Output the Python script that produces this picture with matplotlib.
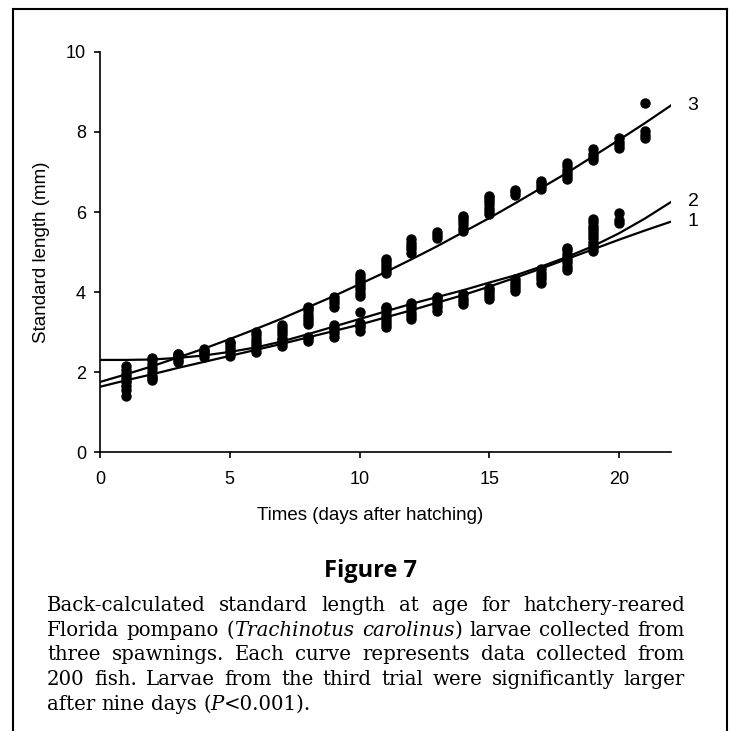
import matplotlib
matplotlib.use("Agg")
import matplotlib.pyplot as plt
from matplotlib.lines import Line2D

# ---------------- data ----------------
t1_days = [1, 1, 1, 1, 2, 2, 2, 3, 3, 4, 4, 5, 5, 6, 6, 7, 7, 8, 8,
           9, 9, 9, 10, 10, 11, 11, 11, 11, 12, 12, 12, 13, 13, 13, 14, 14,
           15, 15, 16, 16, 17, 17, 17, 18, 18, 18, 18, 19, 19, 19, 19, 19, 20, 20]
t1_sl = [1.42, 1.55, 1.65, 1.75, 1.80, 1.90, 2.00, 2.25, 2.32, 2.39, 2.45, 2.41, 2.50,
         2.51, 2.60, 2.66, 2.74, 2.79, 2.85, 2.89, 2.97, 3.05, 3.04, 3.12,
         3.12, 3.20, 3.28, 3.36, 3.33, 3.41, 3.49, 3.54, 3.62, 3.70, 3.70, 3.78,
         3.83, 3.91, 4.03, 4.11, 4.24, 4.32, 4.40, 4.56, 4.64, 4.72, 4.80,
         5.02, 5.10, 5.18, 5.26, 5.34, 5.72, 5.80]

t2_days = [1, 1, 1, 2, 2, 2, 2, 3, 3, 4, 4, 5, 5, 6, 6, 7, 7, 8, 9, 9,
           10, 10, 10, 11, 11, 11, 11, 12, 12, 12, 13, 13, 13, 14, 14, 15, 15, 15,
           16, 16, 16, 17, 17, 18, 18, 18, 18, 19, 19, 19, 19, 19, 19, 20]
t2_sl = [1.95, 2.05, 2.15, 2.10, 2.20, 2.30, 2.35, 2.38, 2.45, 2.50, 2.57, 2.58, 2.66,
         2.68, 2.76, 2.80, 2.85, 2.88, 3.10, 3.17, 3.18, 3.24, 3.50,
         3.44, 3.52, 3.60, 3.63, 3.57, 3.65, 3.74, 3.78, 3.85, 3.89, 3.86, 3.95,
         3.99, 4.06, 4.11, 4.19, 4.26, 4.32, 4.48, 4.57, 4.88, 4.96, 5.04, 5.10,
         5.42, 5.50, 5.58, 5.66, 5.74, 5.83, 5.98]

t3_days = [1, 1, 2, 3, 3, 4, 5, 5, 6, 6, 6, 7, 7, 7, 7,
           8, 8, 8, 8, 8, 8, 8, 9, 9, 9, 9,
           10, 10, 10, 10, 10, 10, 10, 10, 11, 11, 11, 11, 11, 11,
           12, 12, 12, 12, 12, 13, 13, 13, 14, 14, 14, 14, 14, 14,
           15, 15, 15, 15, 15, 15, 15, 16, 16, 16, 17, 17, 17, 17,
           18, 18, 18, 18, 18, 18, 19, 19, 19, 19, 20, 20, 20, 20, 21, 21, 21, 21]
t3_sl = [1.80, 1.88, 1.85, 2.40, 2.47, 2.52, 2.72, 2.75, 2.84, 2.92, 3.00,
         2.95, 3.03, 3.11, 3.17,
         3.20, 3.28, 3.36, 3.44, 3.52, 3.60, 3.63, 3.64, 3.72, 3.80, 3.89,
         3.91, 3.99, 4.07, 4.15, 4.23, 4.31, 4.39, 4.46,
         4.47, 4.55, 4.63, 4.71, 4.79, 4.84,
         4.99, 5.07, 5.15, 5.23, 5.32, 5.34, 5.42, 5.50,
         5.53, 5.61, 5.69, 5.77, 5.85, 5.90,
         5.95, 6.03, 6.11, 6.19, 6.27, 6.35, 6.40, 6.42, 6.50, 6.54,
         6.57, 6.65, 6.73, 6.77, 6.82, 6.90, 6.98, 7.06, 7.14, 7.23,
         7.29, 7.37, 7.45, 7.56, 7.59, 7.67, 7.75, 7.84, 7.84, 7.92, 8.03, 8.73]

# fitted growth curves, read at each day 0..22
curve_days = list(range(23))
curve1 = [1.64, 1.80, 1.95, 2.11, 2.26, 2.41, 2.56, 2.71, 2.87, 3.03, 3.19, 3.37,
          3.55, 3.74, 3.93, 4.14, 4.36, 4.59, 4.83, 5.07, 5.31, 5.54, 5.76]
curve2 = [2.31, 2.31, 2.32, 2.36, 2.42, 2.51, 2.62, 2.77, 2.95, 3.14, 3.33, 3.52,
          3.71, 3.88, 4.05, 4.24, 4.42, 4.64, 4.88, 5.15, 5.47, 5.84, 6.25]
curve3 = [1.76, 1.95, 2.15, 2.37, 2.59, 2.83, 3.08, 3.34, 3.62, 3.90, 4.20, 4.50,
          4.82, 5.15, 5.50, 5.85, 6.22, 6.60, 6.98, 7.39, 7.80, 8.22, 8.66]
curve_labels = ["1", "2", "3"]

x_ticks = [0, 5, 10, 15, 20]
y_ticks = [0, 2, 4, 6, 8, 10]

caption_lines = [
    [("Back-calculated standard length at age for hatchery-reared", False)],
    [("Florida pompano (", False), ("Trachinotus carolinus", True), (") larvae collected from", False)],
    [("three spawnings. Each curve represents data collected from", False)],
    [("200 fish. Larvae from the third trial were significantly larger", False)],
    [("after nine days (", False), ("P", True), ("<0.001).", False)],
]

# ---------------- figure ----------------
W = H = 731
DPI = 100
fig = plt.figure(figsize=(W / DPI, H / DPI), dpi=DPI)
sans = ["Liberation Sans Narrow", "Liberation Sans", "DejaVu Sans"]
serif = ["DejaVu Serif"]

def fx(px):
    return px / W

def fy(py):
    return 1 - py / H

ax_left, ax_right, ax_top, ax_bot = 100, 671, 51.7, 452.5
ax = fig.add_axes([fx(ax_left), fy(ax_bot), (ax_right - ax_left) / W, (ax_bot - ax_top) / H])
ax.set_xlim(0, 22)
ax.set_ylim(0, 10)

for d, v in ((t1_days, t1_sl), (t2_days, t2_sl), (t3_days, t3_sl)):
    ax.plot(d, v, "o", color="black", ms=6.5, mec="black", clip_on=False, zorder=3)

for c in (curve1, curve2, curve3):
    ax.plot(curve_days, c, "-", color="black", lw=1.6, zorder=4)

for lab, c in zip(curve_labels, (curve1, curve2, curve3)):
    ax.annotate(lab, xy=(curve_days[-1], c[-1]), xytext=(12, 0), textcoords="offset points",
                ha="left", va="center", fontsize=14, family=sans, annotation_clip=False)

for s in ("top", "right"):
    ax.spines[s].set_visible(False)
for s in ("left", "bottom"):
    ax.spines[s].set_linewidth(1.2)
ax.set_xticks(x_ticks)
ax.set_yticks(y_ticks)
ax.tick_params(direction="out", length=4, width=1.2, labelsize=13)
ax.tick_params(axis="x", pad=9)
ax.tick_params(axis="y", pad=6)
for lab in ax.get_xticklabels() + ax.get_yticklabels():
    lab.set_family(sans)

fig.text(fx(42), fy(252), "Standard length (mm)", rotation=90, ha="center", va="center",
         fontsize=13.5, family=sans)
fig.text(fx(370), fy(515), "Times (days after hatching)", ha="center", va="center",
         fontsize=13.5, family=sans)
fig.text(fx(370), fy(571), "Figure 7", ha="center", va="center", fontsize=17,
         fontweight="bold", family=["Open Sans", "DejaVu Sans"])

# frame
for xs, ys in (([13, 13], [9, 731]), ([727, 727], [9, 731]), ([13, 727], [9, 9])):
    fig.add_artist(Line2D([fx(x) for x in xs], [fy(y) for y in ys], color="black", lw=1.5))

# justified caption
renderer = fig.canvas.get_renderer()
cap_x0, cap_x1 = 47, 685
baselines = [611, 636, 660, 685, 710]

def measure(txt, italic, size):
    t = fig.text(0, 0, txt, fontsize=size, family=serif, style="italic" if italic else "normal")
    w = t.get_window_extent(renderer).width
    t.remove()
    return w

def line_width(segs, size):
    return sum(measure(t, it, size) for t, it in segs)

# font size chosen so that the widest justified line just fills the column
widest = max(line_width(s, 12.0) for s in caption_lines[:-1])
cap_size = 12.0 * (cap_x1 - cap_x0) / widest * 0.985

space_w = measure("a a", False, cap_size) - measure("aa", False, cap_size)

for i, (segs, yb) in enumerate(zip(caption_lines, baselines)):
    words = [[]]
    for txt, it in segs:
        parts = txt.split(" ")
        for j, p in enumerate(parts):
            if j > 0:
                words.append([])
            if p:
                words[-1].append((p, it))
    words = [w for w in words if w]
    widths = [sum(measure(p, it, cap_size) for p, it in w) for w in words]
    last = i == len(caption_lines) - 1
    if last or len(words) < 2:
        gap = space_w
    else:
        gap = (cap_x1 - cap_x0 - sum(widths)) / (len(words) - 1)
    x = cap_x0
    for w, ww in zip(words, widths):
        xx = x
        for p, it in w:
            fig.text(fx(xx), fy(yb), p, fontsize=cap_size, family=serif,
                     style="italic" if it else "normal", ha="left", va="baseline")
            xx += measure(p, it, cap_size)
        x += ww + gap

fig.savefig("out.png", dpi=DPI)
